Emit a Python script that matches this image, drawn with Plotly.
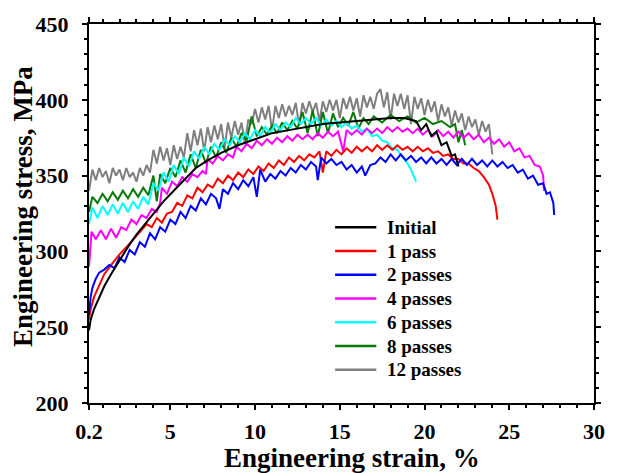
import plotly.graph_objects as go

# ---------------- data (engineering strain %, engineering stress MPa) ----------------
x_initial = [0.2, 0.3, 0.5, 0.8, 1.1, 1.5, 2.0, 2.5, 3.0, 3.5, 4.0, 4.6, 5.2, 5.8, 6.5, 7.2, 8.0, 9.0,
             10.0, 11.0, 12.0, 13.0, 14.0, 15.0, 16.0, 17.0, 18.0, 18.8, 19.5, 19.8, 20.1, 20.4, 20.7,
             21.0, 21.3, 21.6, 21.8, 22.0]
y_initial = [248, 255, 262, 270, 277, 285, 294, 303, 311, 318, 325, 333, 340, 347, 355, 360, 365, 370,
             374, 378, 380, 382, 384, 385, 386, 387, 388, 388, 386, 380, 384, 376, 379,
             370, 372, 363, 364, 356]

x_1pass = [0.2, 0.3, 0.5, 0.8, 1.1, 1.5, 2.0, 2.5, 3.0, 3.3, 3.6, 3.9, 4.2, 4.5, 4.8, 5.1, 5.4, 5.7,
           6.0, 6.3, 6.6, 6.9, 7.2, 7.5, 7.8, 8.1, 8.4, 8.7, 9.0, 9.3, 9.6, 9.9, 10.2, 10.5, 10.8,
           11.1, 11.4, 11.7, 12.0, 12.3, 12.6, 12.9, 13.2, 13.5, 13.8, 14.0, 14.2, 14.5, 14.8, 15.1,
           15.4, 15.7, 16.0, 16.3, 16.6, 16.9, 17.2, 17.5, 17.8, 18.1, 18.4, 18.7, 19.0, 19.3, 19.6,
           19.9, 20.2, 20.5, 20.8, 21.1, 21.4, 21.7, 22.0, 22.3, 22.6, 22.9, 23.2, 23.5, 23.8, 24.0,
           24.2, 24.3]
y_1pass = [255, 262, 270, 278, 285, 291, 298, 304, 310, 314, 318, 316, 322, 319, 325, 326, 332, 330,
           337, 335, 342, 339, 344, 342, 348, 345, 350, 347, 352, 349, 354, 351, 356, 353, 358,
           355, 360, 357, 362, 359, 363, 360, 364, 362, 366, 352, 366, 363, 367, 364,
           368, 365, 369, 366, 369, 366, 370, 367, 370, 367, 370, 367, 369, 366, 369,
           366, 368, 365, 366, 363, 364, 361, 361, 358, 358, 355, 353, 349, 344, 338,
           330, 321]

x_2passes = [0.2, 0.3, 0.4, 0.6, 0.8, 1.1, 1.4, 1.7, 2.0, 2.3, 2.6, 2.9, 3.2, 3.5, 3.8, 4.1, 4.4,
             4.7, 5.0, 5.3, 5.6, 5.9, 6.2, 6.5, 6.8, 7.1, 7.4, 7.7, 7.9, 8.1, 8.4, 8.7, 9.0, 9.3,
             9.6, 9.9, 10.1, 10.3, 10.6, 10.9, 11.2, 11.5, 11.8, 12.1, 12.4, 12.7, 13.0, 13.3, 13.6,
             13.7, 13.9, 14.2, 14.5, 14.8, 15.1, 15.4, 15.7, 16.0, 16.3, 16.5, 16.8, 17.1, 17.4,
             17.7, 18.0, 18.3, 18.6, 18.9, 19.2, 19.5, 19.8, 20.1, 20.4, 20.7, 21.0, 21.3, 21.6,
             21.9, 22.2, 22.5, 22.8, 23.1, 23.4, 23.7, 24.0, 24.3, 24.6, 24.9, 25.2, 25.5, 25.8,
             26.1, 26.4, 26.7, 27.0, 27.2, 27.4, 27.6, 27.65]
y_2passes = [258, 270, 276, 282, 286, 288, 291, 289, 296, 293, 301, 298, 306, 303, 312, 308, 316,
             313, 321, 318, 326, 322, 330, 327, 335, 331, 338, 335, 328, 341, 338, 345, 341, 347,
             343, 349, 336, 354, 346, 351, 348, 353, 350, 355, 352, 357, 354, 359, 356,
             347, 362, 358, 361, 357, 359, 354, 357, 352, 356, 350, 357, 358, 362,
             359, 364, 360, 364, 360, 363, 359, 362, 358, 362, 358, 361, 357, 361,
             357, 361, 357, 361, 357, 360, 356, 360, 356, 359, 355, 357, 352, 354,
             348, 350, 344, 345, 338, 339, 332, 324]

x_4passes = [0.2, 0.25, 0.35, 0.6, 0.9, 1.2, 1.5, 1.8, 2.1, 2.4, 2.7, 3.0, 3.3, 3.6, 3.9, 4.2, 4.4,
             4.5, 4.8, 5.1, 5.4, 5.7, 6.0, 6.3, 6.6, 6.9, 7.1, 7.2, 7.5, 7.8, 8.1, 8.4, 8.7, 8.9,
             9.2, 9.5, 9.8, 10.1, 10.4, 10.7, 11.0, 11.3, 11.6, 11.9, 12.2, 12.5, 12.8, 13.1, 13.4,
             13.7, 14.0, 14.3, 14.6, 14.9, 15.2, 15.4, 15.7, 16.0, 16.3, 16.6, 16.9, 17.2, 17.5,
             17.8, 18.1, 18.4, 18.7, 19.0, 19.3, 19.6, 19.9, 20.2, 20.5, 20.8, 21.1, 21.4, 21.7,
             22.0, 22.3, 22.6, 22.9, 23.2, 23.5, 23.8, 24.1, 24.4, 24.7, 25.0, 25.3, 25.6, 25.9,
             26.2, 26.5, 26.8, 27.0, 27.05]
y_4passes = [290, 300, 313, 308, 314, 308, 315, 309, 316, 314, 321, 318, 324, 322, 328, 326, 332,
             342, 338, 346, 343, 349, 346, 351, 349, 353, 351, 361, 358, 363, 360, 364, 362, 369,
             366, 371, 368, 373, 370, 374, 371, 375, 372, 376, 373, 377, 374, 377, 374,
             378, 375, 379, 376, 379, 366, 380, 377, 380, 377, 381, 378, 381, 378,
             382, 379, 382, 379, 381, 378, 381, 377, 380, 376, 380, 376, 379, 375,
             379, 375, 378, 374, 377, 372, 375, 371, 374, 369, 372, 366, 368, 362,
             363, 357, 356, 350, 340]

x_6passes = [0.2, 0.4, 0.7, 1.0, 1.3, 1.6, 1.9, 2.2, 2.5, 2.8, 3.1, 3.4, 3.7, 4.0, 4.3, 4.6, 4.9,
             5.2, 5.5, 5.8, 6.1, 6.4, 6.7, 7.0, 7.3, 7.6, 7.9, 8.2, 8.5, 8.8, 9.1, 9.4, 9.7, 10.0,
             10.3, 10.6, 10.9, 11.2, 11.5, 11.8, 12.1, 12.4, 12.7, 13.0, 13.3, 13.6, 13.9, 14.2,
             14.5, 14.8, 15.1, 15.4, 15.7, 16.0, 16.3, 16.6, 16.9, 17.2, 17.5, 17.8, 18.1, 18.4,
             18.7, 19.0, 19.2, 19.4, 19.5]
y_6passes = [318, 329, 322, 330, 324, 331, 325, 332, 326, 333, 328, 336, 331, 345, 340, 352, 346,
             357, 351, 362, 356, 366, 361, 369, 364, 371, 367, 374, 370, 376, 372, 378, 374, 380,
             376, 382, 378, 384, 380, 385, 382, 388, 384, 388, 384, 388, 383, 387,
             383, 386, 382, 385, 381, 383, 379, 381, 376, 377, 373, 372, 368, 367,
             362, 358, 354, 349, 346]

x_8passes = [0.2, 0.4, 0.7, 1.0, 1.3, 1.6, 1.9, 2.2, 2.5, 2.8, 3.1, 3.4, 3.7, 4.0, 4.2, 4.4, 4.7,
             5.0, 5.3, 5.6, 5.9, 6.2, 6.5, 6.8, 7.1, 7.4, 7.7, 8.0, 8.3, 8.6, 8.9, 9.2, 9.5, 9.8,
             10.1, 10.4, 10.7, 11.0, 11.3, 11.6, 11.9, 12.2, 12.5, 12.8, 13.1, 13.4, 13.7, 14.0,
             14.3, 14.6, 14.9, 15.2, 15.5, 15.8, 16.1, 16.4, 16.7, 17.0, 17.5, 18.0, 18.5, 19.0,
             19.5, 20.0, 20.5, 21.0, 21.5, 21.8, 22.0, 22.2, 22.4]
y_8passes = [326, 336, 332, 338, 333, 339, 334, 340, 335, 341, 336, 342, 337, 350, 333, 351, 345,
             355, 349, 360, 352, 364, 355, 367, 358, 369, 362, 372, 365, 375, 369, 378, 373, 389,
             376, 382, 377, 383, 378, 385, 380, 386, 381, 392, 378, 393, 376, 392,
             378, 391, 382, 388, 383, 392, 381, 388, 384, 389, 385, 390, 386, 389,
             385, 388, 384, 386, 382, 384, 372, 380, 370]

x_12passes = [0.2, 0.4, 0.6, 0.8, 1.0, 1.2, 1.4, 1.6, 1.8, 2.0,
              2.2, 2.4, 2.6, 2.8, 3.0, 3.2, 3.4, 3.6, 3.8, 4.0,
              4.2, 4.4, 4.6, 4.8, 5.0, 5.2, 5.4, 5.6, 5.8, 6.0,
              6.2, 6.4, 6.6, 6.8, 7.0, 7.2, 7.4, 7.6, 7.8, 8.0,
              8.2, 8.4, 8.6, 8.8, 9.0, 9.2, 9.4, 9.6, 9.8, 10.0,
              10.2, 10.4, 10.6, 10.8, 11.0, 11.2, 11.4, 11.6, 11.8, 12.0,
              12.2, 12.4, 12.6, 12.8, 13.0, 13.2, 13.4, 13.6, 13.8, 14.0,
              14.2, 14.4, 14.6, 14.8, 15.0, 15.2, 15.4, 15.6, 15.8, 16.0,
              16.2, 16.4, 16.6, 16.8, 17.0, 17.2, 17.4, 17.6, 17.8, 18.0,
              18.2, 18.4, 18.6, 18.8, 19.0, 19.2, 19.4, 19.6, 19.8, 20.0,
              20.2, 20.4, 20.6, 20.8, 21.0, 21.2, 21.4, 21.6, 21.8, 22.0,
              22.2, 22.4, 22.6, 22.8, 23.0, 23.2, 23.4, 23.6, 23.8, 24.0]
y_12passes = [340, 354, 347, 355, 349, 353, 345, 355, 350, 354,
              347, 355, 349, 352, 346, 355, 350, 357, 352, 367,
              358, 369, 360, 368, 357, 370, 361, 369, 362, 378,
              366, 380, 370, 381, 366, 382, 372, 383, 374, 384,
              368, 385, 375, 386, 377, 385, 371, 387, 384, 394,
              385, 395, 387, 396, 380, 396, 388, 397, 389, 396,
              390, 398, 383, 398, 391, 399, 392, 398, 386, 399,
              392, 400, 393, 400, 388, 401, 394, 402, 393, 401,
              389, 403, 395, 402, 394, 404, 407, 395, 405, 387,
              404, 396, 404, 394, 403, 384, 402, 394, 401, 390,
              400, 392, 399, 386, 397, 389, 395, 383, 393, 385,
              391, 380, 389, 382, 387, 377, 386, 379, 384, 364]

series_names = ["Initial", "1 pass", "2 passes", "4 passes", "6 passes", "8 passes", "12 passes"]
series_colors = ["#000000", "#ff0000", "#0000ff", "#ff00ff", "#00ffff", "#087a08", "#7f7f7f"]

x_ticks = [0.2, 5, 10, 15, 20, 25, 30]
x_ticktext = ["0.2", "5", "10", "15", "20", "25", "30"]
y_ticks = [200, 250, 300, 350, 400, 450]
y_ticktext = ["200", "250", "300", "350", "400", "450"]

x_title = "Engineering strain, %"
y_title = "Engineering stress, MPa"

# ---------------- figure ----------------
FONT = "Liberation Serif"
def b(s):
    return "<b>" + s + "</b>"

data = {
    "Initial": (x_initial, y_initial),
    "1 pass": (x_1pass, y_1pass),
    "2 passes": (x_2passes, y_2passes),
    "4 passes": (x_4passes, y_4passes),
    "6 passes": (x_6passes, y_6passes),
    "8 passes": (x_8passes, y_8passes),
    "12 passes": (x_12passes, y_12passes),
}
draw_order = ["12 passes", "8 passes", "6 passes", "4 passes", "1 pass", "2 passes", "Initial"]

fig = go.Figure()
for name in draw_order:
    i = series_names.index(name)
    xs, ys = data[name]
    fig.add_trace(go.Scatter(
        x=xs, y=ys, mode="lines", name=name, showlegend=False,
        line=dict(color=series_colors[i], width=2),
    ))

# manual legend (line sample + label), placed in paper coordinates
PW, PH, L, T = 515.0, 386.0, 89.0, 17.0
def px_x(px):
    return (px - L) / PW
def px_y(py):
    return (T + PH - py) / PH

shapes = []
annotations = []
legend_top = 224.0
legend_step = 24.2
for i, name in enumerate(series_names):
    yy = px_y(legend_top + i * legend_step)
    shapes.append(dict(type="line", xref="paper", yref="paper", x0=px_x(340), x1=px_x(382),
                       y0=yy, y1=yy, line=dict(color=series_colors[i], width=2.5)))
    annotations.append(dict(text=b(name), xref="paper", yref="paper", x=px_x(391), y=yy,
                            xanchor="left", yanchor="middle", showarrow=False,
                            font=dict(family=FONT, size=19, color="black")))

annotations.append(dict(text=b(x_title), x=px_x(357), y=px_y(476), xref="paper",
                        yref="paper", xanchor="center", yanchor="bottom", showarrow=False,
                        font=dict(family=FONT, size=27, color="black")))
annotations.append(dict(text=b(y_title), x=px_x(21), y=px_y(203), xref="paper",
                        yref="paper", xanchor="center", yanchor="middle", showarrow=False,
                        textangle=-90,
                        font=dict(family=FONT, size=27, color="black")))

axis_common = dict(showgrid=False, zeroline=False, showline=True, linecolor="black", linewidth=2)

fig.update_layout(
    width=617, height=473,
    margin=dict(l=89, r=13, t=17, b=70),
    paper_bgcolor="white", plot_bgcolor="white",
    showlegend=False,
    xaxis=dict(
        **axis_common, range=[0.2, 30], tickmode="array", tickvals=x_ticks,
        ticktext=[b(t) for t in x_ticktext],
        ticks="outside", ticklen=5, tickwidth=2, tickcolor="black", mirror="ticks",
        tickfont=dict(family=FONT, size=22, color="black"),
        minor=dict(tickmode="linear", tick0=0, dtick=1, ticks="outside", ticklen=3, tickwidth=1.5,
                   tickcolor="black"),
        ticklabelstandoff=3,
    ),
    xaxis2=dict(
        **axis_common, range=[0.2, 30], overlaying="x", anchor="y", side="bottom",
        tickmode="array", tickvals=x_ticks, showticklabels=False,
        ticks="inside", ticklen=5, tickwidth=2, tickcolor="black", mirror="ticks",
        minor=dict(tickmode="linear", tick0=0, dtick=1, ticks="inside", ticklen=3, tickwidth=1.5,
                   tickcolor="black"),
    ),
    yaxis=dict(
        **axis_common, range=[200, 450], tickmode="array", tickvals=y_ticks,
        ticktext=[b(t) for t in y_ticktext],
        ticks="outside", ticklen=5, tickwidth=2, tickcolor="black", mirror="ticks",
        tickfont=dict(family=FONT, size=22, color="black"),
        minor=dict(tickmode="linear", tick0=200, dtick=10, ticks="outside", ticklen=3,
                   tickwidth=1.5, tickcolor="black"),
        ticklabelstandoff=9,
    ),
    yaxis2=dict(
        **axis_common, range=[200, 450], overlaying="y", anchor="x", side="left",
        tickmode="array", tickvals=y_ticks, showticklabels=False,
        ticks="inside", ticklen=5, tickwidth=2, tickcolor="black", mirror="ticks",
        minor=dict(tickmode="linear", tick0=200, dtick=10, ticks="inside", ticklen=3,
                   tickwidth=1.5, tickcolor="black"),
    ),
    shapes=shapes,
    annotations=annotations,
)

fig.write_html("out.html")
